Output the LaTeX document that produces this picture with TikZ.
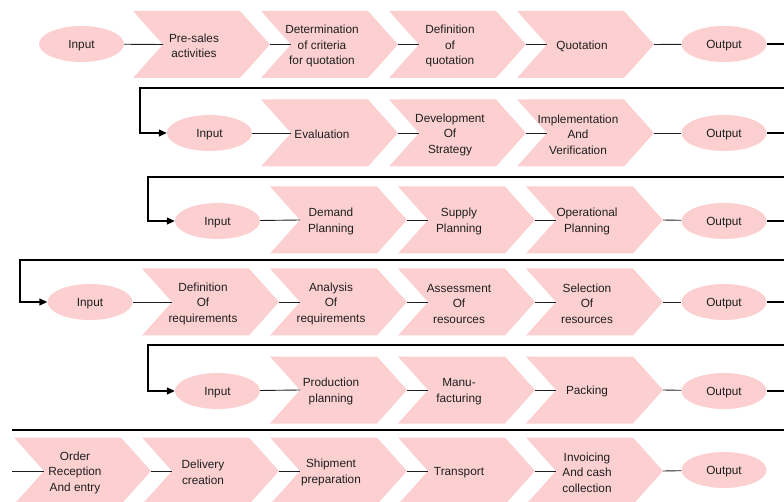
\documentclass[tikz,border=0pt]{standalone}
\usepackage{fontspec}
\setmainfont{Liberation Sans}
\usetikzlibrary{shapes.geometric,arrows.meta}
\definecolor{procpink}{HTML}{FCD0D0}
\definecolor{inkgray}{HTML}{1E1E1E}
\tikzset{
  steptext/.style={align=center, inner sep=0pt, text=inkgray, yshift=-1.5pt,
    font=\fontsize{11.8}{15.5}\selectfont},
  io/.style={ellipse, fill=procpink, minimum width=85pt, minimum height=36pt,
    inner sep=0pt, text=inkgray, text height=8.5pt, text depth=0pt,
    font=\fontsize{11.8}{14}\selectfont},
  flow/.style={draw=inkgray, line width=0.9pt},
  retline/.style={draw=black, line width=1.4pt},
  retarrow/.style={retline, -{Triangle[length=8pt,width=7pt]}},
}
% chevron process step: name, left x, centre y, label
\newcommand\chevstep[4]{%
  \fill[procpink] (#2,#3-33.5) -- ++(107,0) -- ++(30,33.5) -- ++(-30,33.5)
    -- ++(-107,0) -- ++(30,-33.5) -- cycle;
  \node[steptext] (#1) at (#2+61,#3) {#4};
  \coordinate (#1-in) at (#2+30,#3);
  \coordinate (#1-out) at (#2+137,#3);
}
\begin{document}
\begin{tikzpicture}[x=1pt,y=-1pt]
\useasboundingbox (0,0) rectangle (784,502);
\clip (0,0) rectangle (784,502);
\coordinate (edge) at (800,0);

% ---- row 1: quotation
\node[io] (in1) at (81.5,44) {Input};
\chevstep{a1}{133}{44.5}{Pre-sales\\activities}
\chevstep{a2}{261}{44.5}{Determination\\of criteria\\for quotation}
\chevstep{a3}{389}{44.5}{Definition\\of\\quotation}
\chevstep{a4}{517}{44.5}{\hspace{8pt}Quotation}
\node[io] (out1) at (724,44) {Output};

% ---- row 2: strategy
\node[io] (in2) at (209.5,133) {Input};
\chevstep{b1}{261}{133}{Evaluation}
\chevstep{b2}{389}{133}{Development\\Of\\Strategy}
\chevstep{b3}{517}{133}{Implementation\\And\\Verification}
\node[io] (out2) at (724,133) {Output};

% ---- row 3: planning
\node[io] (in3) at (217.5,221) {Input};
\chevstep{c1}{270}{220}{Demand\\Planning}
\chevstep{c2}{398}{220}{Supply\\Planning}
\chevstep{c3}{526}{220}{Operational\\Planning}
\node[io] (out3) at (724,221) {Output};

% ---- row 4: requirements and resources
\node[io] (in4) at (90,302) {Input};
\chevstep{d1}{142}{302}{Definition\\Of\\requirements}
\chevstep{d2}{270}{302}{Analysis\\Of\\requirements}
\chevstep{d3}{398}{302}{Assessment\\Of\\resources}
\chevstep{d4}{526}{302}{Selection\\Of\\resources}
\node[io] (out4) at (724,302) {Output};

% ---- row 5: production
\node[io] (in5) at (217.5,391) {Input};
\chevstep{e1}{270}{390}{Production\\planning}
\chevstep{e2}{398}{390}{Manu-\\facturing}
\chevstep{e3}{526}{390}{Packing}
\node[io] (out5) at (724,391) {Output};

% ---- row 6: order to cash
\chevstep{f1}{14}{471}{Order\\Reception\\And entry}
\chevstep{f2}{142}{471}{Delivery\\creation}
\chevstep{f3}{270}{471}{Shipment\\preparation}
\chevstep{f4}{398}{471}{Transport}
\chevstep{f5}{526}{471}{Invoicing\\And cash\\collection}
\node[io] (out6) at (724,470) {Output};

% turning points of the return lines
\coordinate (r1) at (140,88);
\coordinate (r2) at (148,177);
\coordinate (r3) at (20,260);
\coordinate (r4) at (148,345);
\coordinate (r5) at (12,430);
\coordinate (s6) at (12,471);

% ---- flow within rows
\draw[flow] (in1) -- (a1-in);
\draw[flow] (a1-out) -- (a2-in);
\draw[flow] (a2-out) -- (a3-in);
\draw[flow] (a3-out) -- (a4-in);
\draw[flow] (a4-out) -- (out1);

\draw[flow] (in2) -- (b1-in);
\draw[flow] (b1-out) -- (b2-in);
\draw[flow] (b2-out) -- (b3-in);
\draw[flow] (b3-out) -- (out2);

\draw[flow] (in3) -- (c1-in);
\draw[flow] (c1-out) -- (c2-in);
\draw[flow] (c2-out) -- (c3-in);
\draw[flow] (c3-out) -- (out3);

\draw[flow] (in4) -- (d1-in);
\draw[flow] (d1-out) -- (d2-in);
\draw[flow] (d2-out) -- (d3-in);
\draw[flow] (d3-out) -- (d4-in);
\draw[flow] (d4-out) -- (out4);

\draw[flow] (in5) -- (e1-in);
\draw[flow] (e1-out) -- (e2-in);
\draw[flow] (e2-out) -- (e3-in);
\draw[flow] (e3-out) -- (out5);

\draw[flow] (s6) -- (f1-in);
\draw[flow] (f1-out) -- (f2-in);
\draw[flow] (f2-out) -- (f3-in);
\draw[flow] (f3-out) -- (f4-in);
\draw[flow] (f4-out) -- (f5-in);
\draw[flow] (f5-out) -- (out6);

% ---- return lines from one row to the next
\draw[retarrow] (out1.east) -- (out1.east -| edge) |- (r1) |- (in2.west);
\draw[retarrow] (out2.east) -- (out2.east -| edge) |- (r2) |- (in3.west);
\draw[retarrow] (out3.east) -- (out3.east -| edge) |- (r3) |- (in4.west);
\draw[retarrow] (out4.east) -- (out4.east -| edge) |- (r4) |- (in5.west);
\draw[retline] (out5.east) -- (out5.east -| edge) |- (r5);
\end{tikzpicture}
\end{document}
